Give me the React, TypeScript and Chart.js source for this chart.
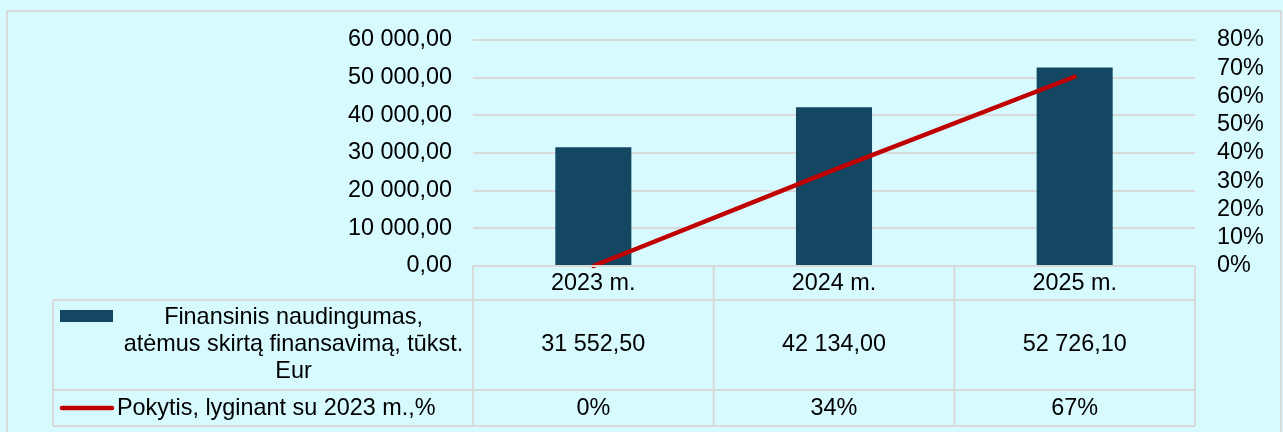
import React, { useEffect, useRef } from "react";
import { Chart, registerables } from "chart.js";

Chart.register(...registerables);

// ---- data ----
const categories = ["2023 m.", "2024 m.", "2025 m."];
const benefitValues = [31552.5, 42134.0, 52726.1];
const changeValues = [0, 34, 67];
const benefitLabelLines = ["Finansinis naudingumas,", "atėmus skirtą finansavimą, tūkst.", "Eur"];
const changeLabel = "Pokytis, lyginant su 2023 m.,%";
const leftAxisMax = 60000;
const leftAxisStep = 10000;
const rightAxisMax = 80;
const rightAxisStep = 10;

// ---- styles ----
const BG = "#D6FAFE";
const BAR = "#134762";
const LINE = "#C00000";
const GRID = "#D9D9D9";
const FONT_FAMILY = '"Liberation Sans", Arial, sans-serif';
const FONT_SIZE = 23.4;

function fmtNum(v: number): string {
  const [i, d] = Math.abs(v).toFixed(2).split(".");
  const withSp = i.replace(/\B(?=(\d{3})+(?!\d))/g, " ");
  return (v < 0 ? "-" : "") + withSp + "," + d;
}

const tablePlugin = {
  id: "dataTable",
  afterDraw(chart: any) {
    const ctx = chart.ctx as CanvasRenderingContext2D;
    const xs = chart.scales.x;
    const area = chart.chartArea;
    const n = categories.length;
    const half = (xs.getPixelForValue(1) - xs.getPixelForValue(0)) / 2;
    const edges: number[] = [];
    for (let i = 0; i < n; i++) edges.push(xs.getPixelForValue(i) - half);
    edges.push(xs.getPixelForValue(n - 1) + half);

    const tableLeft = 53;
    const headerTop = area.bottom;
    const headerBottom = headerTop + 34;
    const row1Bottom = headerBottom + 90;
    const row2Bottom = row1Bottom + 36;

    ctx.save();
    // outer frame
    ctx.strokeStyle = GRID;
    ctx.lineWidth = 2;
    ctx.strokeRect(7, 11, 1274, 600);

    // table lines
    ctx.beginPath();
    ctx.moveTo(edges[0], headerTop);
    ctx.lineTo(edges[n], headerTop);
    for (const y of [headerBottom, row1Bottom, row2Bottom]) {
      ctx.moveTo(tableLeft, y);
      ctx.lineTo(edges[n], y);
    }
    ctx.moveTo(tableLeft, headerBottom);
    ctx.lineTo(tableLeft, row2Bottom);
    for (const x of edges) {
      ctx.moveTo(x, headerTop);
      ctx.lineTo(x, row2Bottom);
    }
    ctx.stroke();

    // texts
    ctx.fillStyle = "#000";
    ctx.font = `${FONT_SIZE}px ${FONT_FAMILY}`;
    ctx.textAlign = "center";
    ctx.textBaseline = "middle";
    const hy = (headerTop + headerBottom) / 2;
    const r1y = (headerBottom + row1Bottom) / 2;
    const r2y = (row1Bottom + row2Bottom) / 2 + 0.5;
    for (let i = 0; i < n; i++) {
      const cx = xs.getPixelForValue(i);
      ctx.fillText(categories[i], cx, hy + 0.5);
      ctx.fillText(fmtNum(benefitValues[i]), cx, r1y);
      ctx.fillText(`${changeValues[i]}%`, cx, r2y);
    }
    // row 1 label
    const labelCx = (114 + edges[0]) / 2;
    const lh = 27;
    benefitLabelLines.forEach((t, k) => {
      ctx.fillText(t, labelCx, r1y + (k - (benefitLabelLines.length - 1) / 2) * lh);
    });
    // swatch bar
    ctx.fillStyle = BAR;
    ctx.fillRect(60, 310, 53, 12);
    // row 2 label
    ctx.fillStyle = "#000";
    ctx.textAlign = "left";
    ctx.fillText(changeLabel, 117, r2y);
    // swatch line
    ctx.strokeStyle = LINE;
    ctx.lineWidth = 4.5;
    ctx.lineCap = "round";
    ctx.beginPath();
    ctx.moveTo(62, r2y - 0.5);
    ctx.lineTo(112, r2y - 0.5);
    ctx.stroke();
    ctx.restore();
  },
};

export default function App() {
  const ref = useRef<HTMLCanvasElement | null>(null);
  useEffect(() => {
    if (!ref.current) return;
    const chart = new Chart(ref.current, {
      type: "bar",
      data: {
        labels: categories,
        datasets: [
          {
            type: "line",
            label: changeLabel,
            data: changeValues,
            yAxisID: "y1",
            borderColor: LINE,
            backgroundColor: LINE,
            borderWidth: 4.5,
            borderCapStyle: "round",
            pointRadius: 0,
            tension: 0,
            clip: false as any,
            order: 0,
          } as any,
          {
            type: "bar",
            label: benefitLabelLines.join(" "),
            data: benefitValues,
            yAxisID: "y",
            backgroundColor: BAR,
            borderWidth: 0,
            barPercentage: 0.316,
            categoryPercentage: 1,
            order: 1,
          },
        ],
      },
      options: {
        responsive: false,
        animation: false,
        devicePixelRatio: 1,
        layout: { padding: { left: 0, right: 0, top: 40, bottom: 166 } },
        plugins: { legend: { display: false }, tooltip: { enabled: false } },
        scales: {
          x: { display: false },
          y: {
            position: "left",
            min: 0,
            max: leftAxisMax,
            afterFit: (s: any) => {
              s.width = 473;
            },
            ticks: {
              stepSize: leftAxisStep,
              autoSkip: false,
              padding: 21,
              color: "#000",
              font: { family: FONT_FAMILY, size: FONT_SIZE },
              callback: (v: any) => fmtNum(Number(v)),
            },
            grid: { color: GRID, lineWidth: 2, drawTicks: false },
            border: { display: false },
          },
          y1: {
            position: "right",
            min: 0,
            max: rightAxisMax,
            afterFit: (s: any) => {
              s.width = 88;
            },
            ticks: {
              stepSize: rightAxisStep,
              autoSkip: false,
              padding: 22,
              color: "#000",
              font: { family: FONT_FAMILY, size: FONT_SIZE },
              callback: (v: any) => `${v}%`,
            },
            grid: { display: false, drawTicks: false },
            border: { display: false },
          },
        },
      },
      plugins: [tablePlugin],
    });
    return () => chart.destroy();
  }, []);
  return (
    <div style={{ position: "fixed", left: 0, top: 0, width: 1283, height: 432, background: BG }}>
      <canvas ref={ref} width={1283} height={432} style={{ display: "block" }} />
    </div>
  );
}
